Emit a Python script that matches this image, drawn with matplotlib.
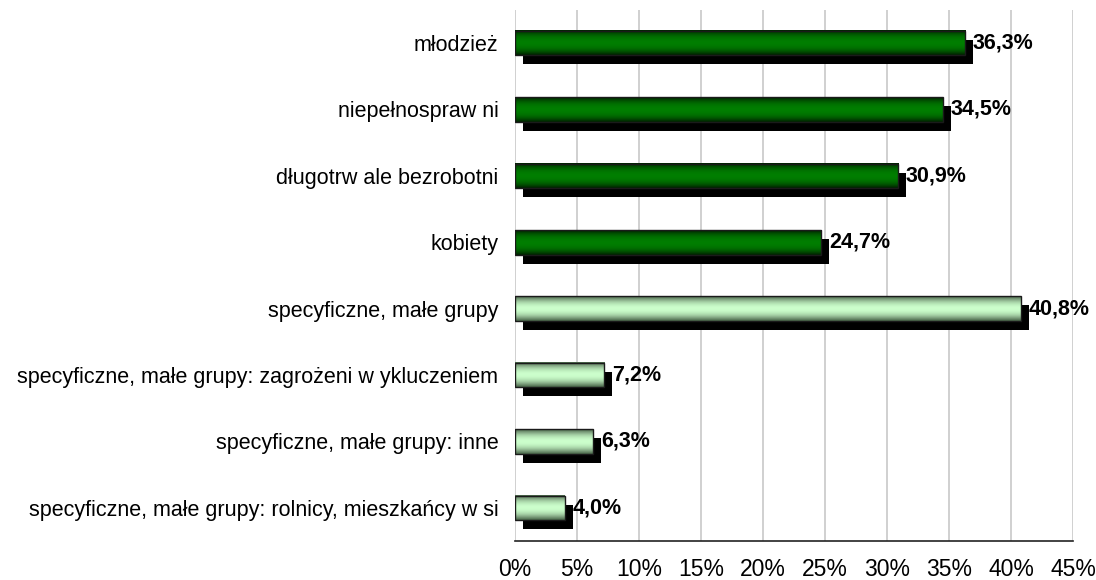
import numpy as np
import matplotlib
matplotlib.use("Agg")
import matplotlib.pyplot as plt
from matplotlib.colors import LinearSegmentedColormap
from matplotlib.transforms import offset_copy

plt.rcParams['font.family'] = ['Liberation Sans', 'DejaVu Sans']

categories = ['młodzież', 'niepełnosprawni', 'długotrwale bezrobotni', 'kobiety',
              'specyficzne, małe grupy',
              'specyficzne, małe grupy: zagrożeni wykluczeniem',
              'specyficzne, małe grupy: inne',
              'specyficzne, małe grupy: rolnicy, mieszkańcy wsi']
# labels as they are printed in the picture
shown_labels = ['młodzież', 'niepełnospraw ni', 'długotrw ale bezrobotni', 'kobiety',
                'specyficzne, małe grupy',
                'specyficzne, małe grupy: zagrożeni w ykluczeniem',
                'specyficzne, małe grupy: inne',
                'specyficzne, małe grupy: rolnicy, mieszkańcy w si']
values = [36.3, 34.5, 30.9, 24.7, 40.8, 7.2, 6.3, 4.0]
group = ['dark', 'dark', 'dark', 'dark', 'light', 'light', 'light', 'light']

# vertical gradient: dark at the edges, bright in the middle
cmaps = {
    'dark': LinearSegmentedColormap.from_list('dk', ['#002200', '#004c00', '#006a00', '#007e00']),
    'light': LinearSegmentedColormap.from_list('lt', ['#4a684a', '#7d9f7d', '#a8d4a8', '#ccffcc']),
}
t = np.linspace(0, 1, 64)
profile = np.sin(np.pi * t) ** 1.1
grad = profile.reshape(-1, 1)

fig = plt.figure(figsize=(10.96, 5.8), dpi=100)
ax = fig.add_axes([0.470, 0.0672, 0.509, 0.9158])

h = 0.37
pos = np.arange(len(values))
shadow_tr = offset_copy(ax.transData, fig=fig, x=8, y=-9, units='dots')

for i, v in enumerate(values):
    # shadow
    ax.barh(pos[i], v, height=h, color='black', transform=shadow_tr, zorder=2)
    # gradient fill
    ax.imshow(grad, extent=(0, v, pos[i] + h / 2, pos[i] - h / 2), aspect='auto',
              cmap=cmaps[group[i]], vmin=0, vmax=1, zorder=3, interpolation='bilinear')
    # outline
    ax.barh(pos[i], v, height=h, facecolor='none', edgecolor='#1a1a1a', linewidth=1.0, zorder=4)
    ax.annotate(f'{v:.1f}%'.replace('.', ','), xy=(v, pos[i]), xytext=(5.5, 0),
                textcoords='offset points', va='center', ha='left',
                fontsize=15.5, fontweight='bold', zorder=5)

ax.set_xlim(0, 45)
ax.set_ylim(len(values) - 0.5, -0.5)
ax.set_xticks(np.arange(0, 46, 5))
ax.set_xticklabels([f'{x}%' for x in range(0, 46, 5)], fontsize=16.5)
ax.set_yticks(pos)
ax.set_yticklabels(shown_labels, fontsize=15.5)
ax.tick_params(axis='x', length=0, pad=12)
ax.tick_params(axis='y', length=0, pad=12)
ax.grid(axis='x', color='#c8c8c8', linewidth=1.2, zorder=0)
ax.set_axisbelow(True)
for s in ['top', 'right', 'left']:
    ax.spines[s].set_visible(False)
ax.spines['bottom'].set_color('#222222')
ax.spines['bottom'].set_linewidth(1.2)

fig.savefig('out.png', dpi=100)
